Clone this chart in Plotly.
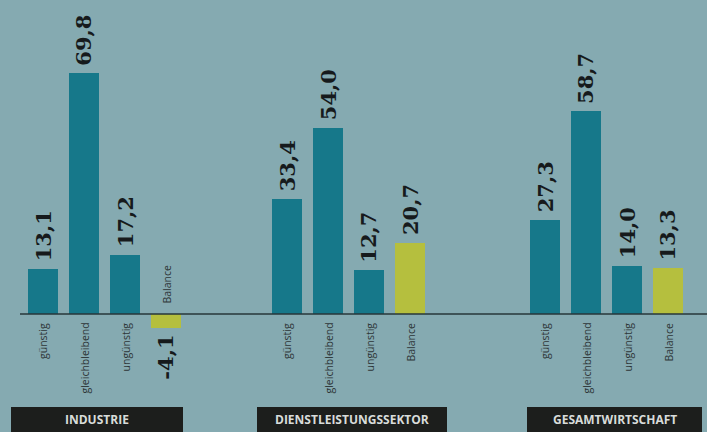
import plotly.graph_objects as go

groups = ["INDUSTRIE", "DIENSTLEISTUNGSSEKTOR", "GESAMTWIRTSCHAFT"]
categories = ["günstig", "gleichbleibend", "ungünstig", "Balance"]
industrie = [13.1, 69.8, 17.2, -4.1]
dienstleistung = [33.4, 54.0, 12.7, 20.7]
gesamt = [27.3, 58.7, 14.0, 13.3]
series = [industrie, dienstleistung, gesamt]

BG = "#85aab1"
TEAL = "#16788a"
YELLOW = "#b5bf3e"
group_start = [43, 287, 545]
step = 41
box_ranges = [(11, 183), (257, 447), (527, 702)]

fig = go.Figure()
annotations = []
for gi, vals in enumerate(series):
    xs = [group_start[gi] + i * step for i in range(len(vals))]
    colors = [TEAL, TEAL, TEAL, YELLOW]
    fig.add_trace(go.Bar(x=xs, y=vals, width=30, marker=dict(color=colors, line=dict(width=0)),
                         showlegend=False, hoverinfo="skip"))
    for x, v, c in zip(xs, vals, categories):
        label = f"{v:.1f}".replace(".", ",")
        annotations.append(dict(x=x, y=v, xref="x", yref="y", text=f"<b>{label}</b>", textangle=-90,
                                showarrow=False, font=dict(family="DejaVu Serif", size=21, color="#161a1c"),
                                yanchor="bottom" if v >= 0 else "top",
                                yshift=5 if v >= 0 else -5, xanchor="center"))
        annotations.append(dict(x=x, y=0, xref="x", yref="y", text=c, textangle=-90,
                                showarrow=False, font=dict(family="Open Sans", size=10.5, color="#2e3638"),
                                yanchor="top" if v >= 0 else "bottom",
                                yshift=-7 if v >= 0 else 8, xanchor="center"))

shapes = [dict(type="line", xref="x", yref="y", x0=20, x1=707, y0=0, y1=0,
               line=dict(color="#27363a", width=1.5))]
for (x0, x1), g in zip(box_ranges, groups):
    shapes.append(dict(type="rect", xref="x", yref="paper", x0=x0, x1=x1, y0=0, y1=25 / 432,
                       fillcolor="#1c1e1c", line=dict(width=0), layer="above"))
    annotations.append(dict(x=(x0 + x1) / 2, y=12.5 / 432, xref="x", yref="paper", text=f"<b>{g}</b>",
                            showarrow=False, font=dict(family="Open Sans", size=12, color="#d8dcda"),
                            xanchor="center", yanchor="middle"))

scale = 3.45
fig.update_layout(
    width=707, height=432, margin=dict(l=0, r=0, t=0, b=0),
    paper_bgcolor=BG, plot_bgcolor=BG,
    xaxis=dict(range=[0, 707], visible=False, fixedrange=True),
    yaxis=dict(range=[-(432 - 314) / scale, 314 / scale], visible=False, fixedrange=True),
    shapes=shapes, annotations=annotations, bargap=0,
)
fig.write_html("out.html")
